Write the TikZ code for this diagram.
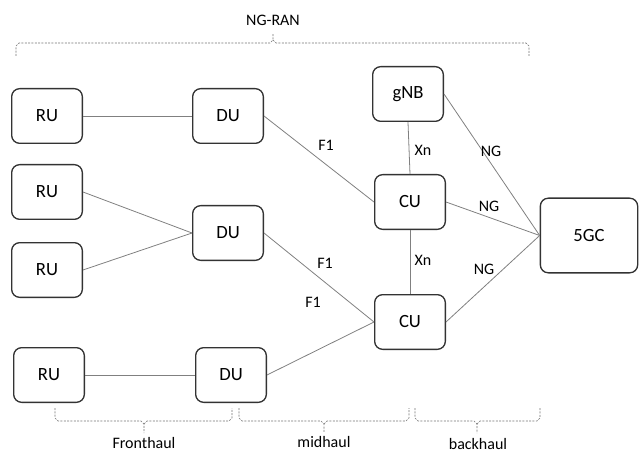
\documentclass[tikz,border=0pt]{standalone}
\usepackage{fontspec}
\setmainfont{Carlito}
\begin{document}
\begin{tikzpicture}[x=0.75pt,y=-0.75pt,
  box/.style={draw=black!80,line width=1pt,rounded corners=6pt,minimum width=53pt,minimum height=41pt,inner sep=0pt,font=\fontsize{14}{16}\selectfont},
  conn/.style={draw=black!50,line width=0.6pt},
  lbl/.style={font=\fontsize{12}{14}\selectfont,inner sep=0pt},
  bracel/.style={draw=black!55,line width=0.5pt,dash pattern=on 1.5pt off 1pt}]
\useasboundingbox (0,0) rectangle (640,453);
% nodes
\node[box] (ru1) at (47,116) {RU};
\node[box] (ru2) at (47,192) {RU};
\node[box] (ru3) at (47,270) {RU};
\node[box] (ru4) at (49,375) {RU};
\node[box] (du1) at (228,116) {DU};
\node[box] (du2) at (228,233) {DU};
\node[box] (du3) at (231,375) {DU};
\node[box] (gnb) at (408,94) {gNB};
\node[box] (cu1) at (410,202) {CU};
\node[box] (cu2) at (410,322) {CU};
\node[box,minimum width=73pt,minimum height=56pt] (core) at (589,235.5) {5GC};
% connectors
\draw[conn] (ru1.east) -- (du1.west);
\draw[conn] (ru2.east) -- (du2.west);
\draw[conn] (ru3.east) -- (du2.west);
\draw[conn] (ru4.east) -- (du3.west);
\draw[conn] (du1.east) -- (cu1.west);
\draw[conn] (du2.east) -- (cu2.west);
\draw[conn] (du3.east) -- (cu2.west);
\draw[conn] (gnb.south) -- (cu1.north);
\draw[conn] (cu1.south) -- (cu2.north);
\draw[conn] (gnb.east) -- (core.west);
\draw[conn] (cu1.east) -- (core.west);
\draw[conn] (cu2.east) -- (core.west);
% connector labels
\node[lbl] (lf1) at (326,145) {F1};
\node[lbl] (lf2) at (325,263) {F1};
\node[lbl] (lf3) at (313,302) {F1};
\node[lbl] (lxn1) at (423,150) {Xn};
\node[lbl] (lxn2) at (423,260) {Xn};
\node[lbl] (lng1) at (491,151) {NG};
\node[lbl] (lng2) at (489,206) {NG};
\node[lbl] (lng3) at (484,269) {NG};
% braces
\draw[bracel] (16,56) -- (16,46) -- (19,43) -- (270,43) -- (273,40) -- (273,33);
\draw[bracel] (273,40) -- (276,43) -- (526,43) -- (529,46) -- (529,56);
\node[lbl] (ngran) at (273,20) {NG-RAN};
\draw[bracel] (55,408) -- (55,418) -- (58,421) -- (141,421) -- (144,424) -- (144,433);
\draw[bracel] (144,424) -- (147,421) -- (229,421) -- (232,418) -- (232,408);
\node[lbl] (fh) at (144,443) {Fronthaul};
\draw[bracel] (239,408) -- (239,418) -- (242,421) -- (321,421) -- (324,424) -- (324,433);
\draw[bracel] (324,424) -- (327,421) -- (406,421) -- (409,418) -- (409,408);
\node[lbl] (mh) at (324,442) {midhaul};
\draw[bracel] (415,408) -- (415,418) -- (418,421) -- (474,421) -- (477,424) -- (477,433);
\draw[bracel] (477,424) -- (480,421) -- (537,421) -- (540,418) -- (540,408);
\node[lbl] (bh) at (478,444) {backhaul};
\end{tikzpicture}
\end{document}
